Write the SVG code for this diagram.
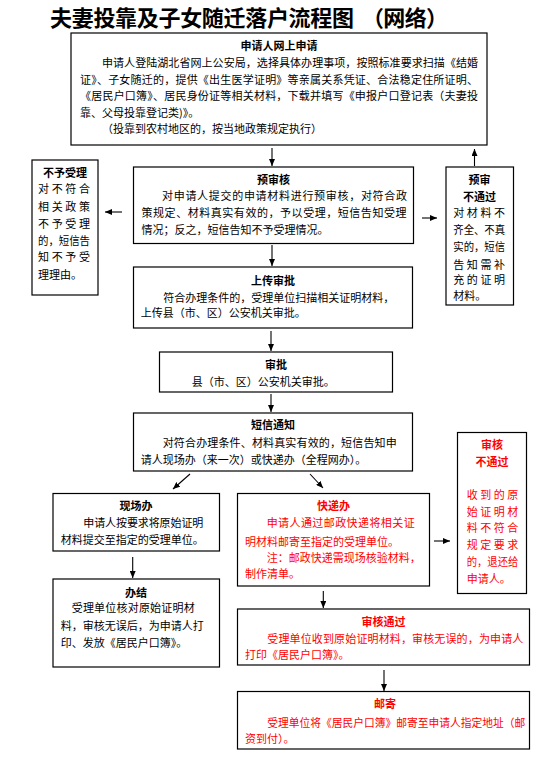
<svg xmlns="http://www.w3.org/2000/svg" width="556" height="775" viewBox="0 0 556 775">
<style>
text{font-family:"Noto Sans CJK SC","Noto Sans",sans-serif;font-size:11px;fill:#000}
.ttl{font-size:22px;font-weight:bold}
.h{font-weight:bold;text-anchor:middle}
.red text{fill:#ff0000}
rect{fill:#fff;stroke:#000;stroke-width:1.2}
.conn line{stroke:#000;stroke-width:1.1;marker-end:url(#ah)}
</style>
<defs>
<marker id="ah" markerUnits="userSpaceOnUse" markerWidth="7" markerHeight="6" refX="7" refY="3" orient="auto">
<path d="M0,0 L7,3 L0,6 z" fill="#000"/>
</marker>
</defs>
<rect x="0" y="0" width="556" height="775" style="stroke:none"/>
<text class="ttl" x="50" y="26" textLength="304" lengthAdjust="spacing">夫妻投靠及子女随迁落户流程图</text>
<text class="ttl" x="362" y="26" textLength="86" lengthAdjust="spacing">（网络）</text>

<g id="n_apply">
<rect x="71" y="33" width="416" height="112"/>
<text class="h" x="279" y="50">申请人网上申请</text>
<text x="102" y="67" textLength="376" lengthAdjust="spacing">申请人登陆湖北省网上公安局，选择具体办理事项，按照标准要求扫描《结婚</text>
<text x="80" y="83.5" textLength="398" lengthAdjust="spacing">证》、子女随迁的，提供《出生医学证明》等亲属关系凭证、合法稳定住所证明、</text>
<text x="80" y="100" textLength="398" lengthAdjust="spacing">《居民户口簿》、居民身份证等相关材料，下载并填写《申报户口登记表（夫妻投</text>
<text x="80" y="116.5">靠、父母投靠登记类)》。</text>
<text x="102" y="133">（投靠到农村地区的，按当地政策规定执行）</text>
</g>

<g id="n_reject">
<rect x="32" y="160" width="66" height="135"/>
<text class="h" x="65" y="177">不予受理</text>
<text x="38" y="193" textLength="52" lengthAdjust="spacing">对不符合</text>
<text x="38" y="211" textLength="52" lengthAdjust="spacing">相关政策</text>
<text x="38" y="228" textLength="52" lengthAdjust="spacing">不予受理</text>
<text x="38" y="245" textLength="52" lengthAdjust="spacingAndGlyphs">的，短信告</text>
<text x="38" y="261" textLength="52" lengthAdjust="spacing">知不予受</text>
<text x="38" y="279">理理由。</text>
</g>

<g id="n_pre">
<rect x="133.5" y="167" width="280" height="76.5"/>
<text class="h" x="273.5" y="184">预审核</text>
<text x="162" y="199.5" textLength="245" lengthAdjust="spacing">对申请人提交的申请材料进行预审核，对符合政</text>
<text x="141.5" y="217" textLength="265" lengthAdjust="spacing">策规定、材料真实有效的，予以受理，短信告知受理</text>
<text x="141.5" y="234">情况；反之，短信告知不予受理情况。</text>
</g>

<g id="n_prefail">
<rect x="446" y="167" width="67.5" height="138"/>
<text class="h" x="479.5" y="184">预审</text>
<text class="h" x="479.5" y="200.7">不通过</text>
<text x="453.3" y="216.7" textLength="51.7" lengthAdjust="spacing">对材料不</text>
<text x="453.3" y="234" textLength="51.7" lengthAdjust="spacingAndGlyphs">齐全、不真</text>
<text x="453.3" y="250.7" textLength="51.7" lengthAdjust="spacingAndGlyphs">实的，短信</text>
<text x="453.3" y="269" textLength="51.7" lengthAdjust="spacing">告知需补</text>
<text x="453.3" y="284" textLength="51.7" lengthAdjust="spacing">充的证明</text>
<text x="453.3" y="299.7">材料。</text>
</g>

<g id="n_upload">
<rect x="133.5" y="267" width="279" height="61"/>
<text class="h" x="273" y="284.7">上传审批</text>
<text x="163.3" y="302.3">符合办理条件的，受理单位扫描相关证明材料，</text>
<text x="140.7" y="317.3">上传县（市、区）公安机关审批。</text>
</g>

<g id="n_approve">
<rect x="159.5" y="352" width="233" height="40"/>
<text class="h" x="276" y="369">审批</text>
<text x="191.7" y="385.7">县（市、区）公安机关审批。</text>
</g>

<g id="n_sms">
<rect x="133.5" y="413" width="279" height="58"/>
<text class="h" x="273" y="429">短信通知</text>
<text x="162.7" y="446.7" textLength="234" lengthAdjust="spacing">对符合办理条件、材料真实有效的，短信告知申</text>
<text x="140.7" y="464">请人现场办（来一次）或快递办（全程网办）。</text>
</g>

<g id="n_onsite">
<rect x="53" y="493.5" width="166.5" height="57.5"/>
<text class="h" x="136" y="510">现场办</text>
<text x="83.3" y="527.3" textLength="120" lengthAdjust="spacing">申请人按要求将原始证明</text>
<text x="60.7" y="544">材料提交至指定的受理单位。</text>
</g>

<g id="n_done">
<rect x="53" y="579" width="166.5" height="88"/>
<text class="h" x="136" y="596.7">办结</text>
<text x="71.7" y="612.3" textLength="123" lengthAdjust="spacing">受理单位核对原始证明材</text>
<text x="60.7" y="630" textLength="143" lengthAdjust="spacing">料，审核无误后，为申请人打</text>
<text x="60.7" y="647.3">印、发放《居民户口簿》。</text>
</g>

<g id="n_express" class="red">
<rect x="237.5" y="493.5" width="192" height="92.5"/>
<text class="h" x="333.5" y="510">快递办</text>
<text x="266.7" y="526.7" textLength="148" lengthAdjust="spacing">申请人通过邮政快递将相关证</text>
<text x="245" y="545.7">明材料邮寄至指定的受理单位。</text>
<text x="266.7" y="562.3">注：邮政快递需现场核验材料，</text>
<text x="245" y="578.3">制作清单。</text>
</g>

<g id="n_checkfail" class="red">
<rect x="457.5" y="432.5" width="69" height="161"/>
<text class="h" x="492" y="449">审核</text>
<text class="h" x="492" y="465.7">不通过</text>
<text x="466.7" y="499" textLength="51.6" lengthAdjust="spacing">收到的原</text>
<text x="466.7" y="515.7" textLength="51.6" lengthAdjust="spacing">始证明材</text>
<text x="466.7" y="532.3" textLength="51.6" lengthAdjust="spacing">料不符合</text>
<text x="466.7" y="549" textLength="51.6" lengthAdjust="spacing">规定要求</text>
<text x="466.7" y="565.7" textLength="51.6" lengthAdjust="spacingAndGlyphs">的，退还给</text>
<text x="466.7" y="583.3">申请人。</text>
</g>

<g id="n_checkpass" class="red">
<rect x="237.5" y="609" width="292" height="56"/>
<text class="h" x="383.5" y="626.3">审核通过</text>
<text x="267.3" y="643.3" textLength="256" lengthAdjust="spacing">受理单位收到原始证明材料，审核无误的，为申请人</text>
<text x="245" y="659">打印《居民户口簿》。</text>
</g>

<g id="n_mail" class="red">
<rect x="237.5" y="691.5" width="292" height="57.5"/>
<text class="h" x="385" y="708">邮寄</text>
<text x="267.3" y="727.3" textLength="258" lengthAdjust="spacingAndGlyphs">受理单位将《居民户口簿》邮寄至申请人指定地址（邮</text>
<text x="245" y="743.3">资到付）。</text>
</g>

<g id="connectors" class="conn">
<line x1="272" y1="148" x2="272" y2="166"/>
<line x1="474.5" y1="166" x2="474.5" y2="149"/>
<line x1="122" y1="212" x2="105" y2="212"/>
<line x1="422" y1="218" x2="437" y2="218"/>
<line x1="272" y1="245" x2="272" y2="266"/>
<line x1="271" y1="331" x2="271" y2="351"/>
<line x1="271" y1="394" x2="271" y2="412"/>
<line x1="190" y1="474" x2="173" y2="489"/>
<line x1="310" y1="474" x2="323" y2="488"/>
<line x1="132.7" y1="557" x2="132.7" y2="578"/>
<line x1="434" y1="541" x2="450" y2="541"/>
<line x1="323.3" y1="591" x2="323.3" y2="608"/>
<line x1="384" y1="670" x2="384" y2="691"/>
</g>
</svg>
